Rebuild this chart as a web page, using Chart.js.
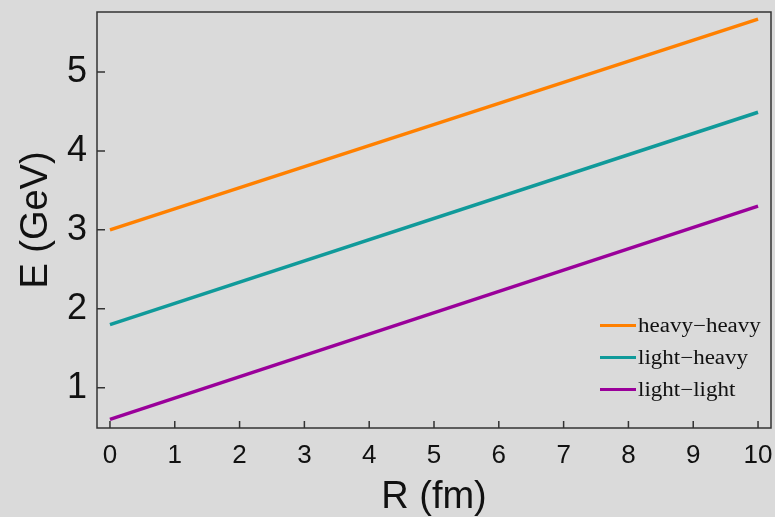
<!DOCTYPE html>
<html>
<head>
<meta charset="utf-8">
<script src="https://cdn.jsdelivr.net/npm/chart.js@4.4.0/dist/chart.umd.min.js"></script>
<style>
	html, body { margin: 0; padding: 0; background: #dadada; }
	#wrap { position: relative; width: 775px; height: 517px; }
	#legend { position: absolute; left: 600px; top: 309px; font-family: "Liberation Serif", serif; font-size: 20px; color: #111; }
	#legend div { height: 32px; display: flex; align-items: center; }
	#legend span.ln { display: inline-block; width: 36px; height: 3px; margin-right: 2px; }
	#legend span.tx { display: inline-block; transform: scaleX(1.15); transform-origin: left center; }
</style>
</head>
<body>
<div id="wrap">
	<canvas id="chart" width="775" height="517"></canvas>
	<div id="legend"></div>
</div>
<script>
// chart values
var rValues = [0, 10];
var heavyHeavy = [3.0, 5.67];
var lightHeavy = [1.8, 4.49];
var lightLight = [0.6, 3.3];
var xTicks = [0, 1, 2, 3, 4, 5, 6, 7, 8, 9, 10];
var yTicks = [1, 2, 3, 4, 5];
var seriesNames = ["heavy\u2212heavy", "light\u2212heavy", "light\u2212light"];
var seriesColors = ["#ff8000", "#109a9a", "#9a009a"];

function toPoints(ys) {
	var pts = [];
	for (var i = 0; i < rValues.length; i++) {
		pts.push({ x: rValues[i], y: ys[i] });
	}
	return pts;
}

// frame and inward tick marks
var framePlugin = {
	id: "frame",
	afterDraw: function(chart) {
		var ctx = chart.ctx;
		var a = chart.chartArea;
		var xs = chart.scales.x;
		var ys = chart.scales.y;
		ctx.save();
		ctx.strokeStyle = "#333";
		ctx.lineWidth = 1.5;
		ctx.strokeRect(a.left, a.top, a.right - a.left, a.bottom - a.top);
		ctx.beginPath();
		for (var i = 0; i < xTicks.length; i++) {
			var px = xs.getPixelForValue(xTicks[i]);
			ctx.moveTo(px, a.bottom);
			ctx.lineTo(px, a.bottom - 7);
		}
		for (var j = 0; j < yTicks.length; j++) {
			var py = ys.getPixelForValue(yTicks[j]);
			ctx.moveTo(a.left, py);
			ctx.lineTo(a.left + 8, py);
		}
		ctx.stroke();
		ctx.restore();
	}
};

var datasets = [heavyHeavy, lightHeavy, lightLight].map(function(d, i) {
	return {
		label: seriesNames[i],
		data: toPoints(d),
		borderColor: seriesColors[i],
		backgroundColor: seriesColors[i],
		borderWidth: 3.5,
		pointRadius: 0,
		fill: false
	};
});

var ctx = document.getElementById("chart").getContext("2d");
var chart = new Chart(ctx, {
	type: "line",
	data: { datasets: datasets },
	plugins: [framePlugin],
	options: {
		responsive: false,
		animation: false,
		layout: { padding: { top: 12, right: 4, left: 0, bottom: 0 } },
		plugins: { legend: { display: false }, tooltip: { enabled: false } },
		scales: {
			x: {
				type: "linear",
				min: -0.2,
				max: 10.2,
				grid: { display: false, tickLength: 0 },
				border: { display: false },
				afterBuildTicks: function(s) { s.ticks = xTicks.map(function(v) { return { value: v }; }); },
				afterFit: function(s) { s.height = 89; s.paddingLeft = 0; s.paddingRight = 0; },
				ticks: { color: "#111", padding: 12, maxRotation: 0, font: { family: "Liberation Sans", size: 26 } },
				title: { display: true, text: "R (fm)", color: "#111", padding: { top: 0, bottom: -3 }, font: { family: "Liberation Sans", size: 38 } }
			},
			y: {
				type: "linear",
				min: 0.49,
				max: 5.76,
				grid: { display: false, tickLength: 0 },
				border: { display: false },
				afterBuildTicks: function(s) { s.ticks = yTicks.map(function(v) { return { value: v }; }); },
				afterFit: function(s) { s.width = 97; s.paddingTop = 0; s.paddingBottom = 0; },
				ticks: { color: "#111", padding: 10, font: { family: "Liberation Sans", size: 36 } },
				title: { display: true, text: "E (GeV)", color: "#111", padding: 14, font: { family: "Liberation Sans", size: 38 } }
			}
		}
	}
});

var legend = document.getElementById("legend");
for (var k = 0; k < seriesNames.length; k++) {
	var row = document.createElement("div");
	var ln = document.createElement("span");
	ln.className = "ln";
	ln.style.background = seriesColors[k];
	var tx = document.createElement("span");
	tx.className = "tx";
	tx.textContent = seriesNames[k];
	row.appendChild(ln);
	row.appendChild(tx);
	legend.appendChild(row);
}
</script>
</body>
</html>
